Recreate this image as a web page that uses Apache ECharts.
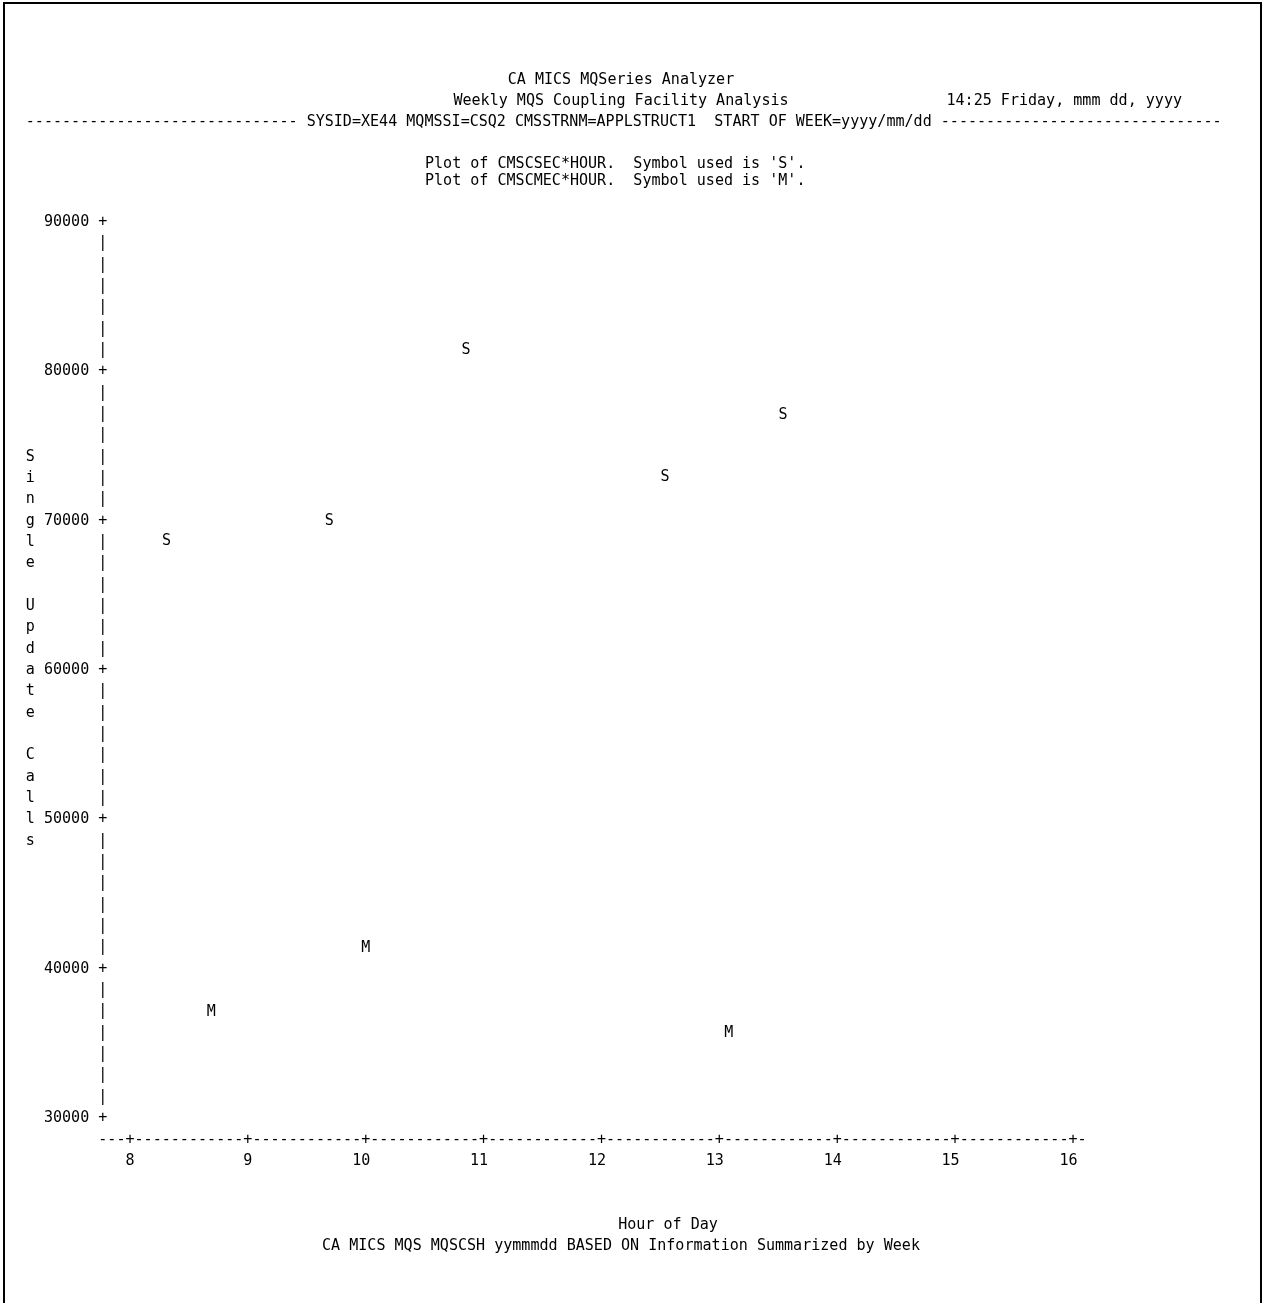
<!DOCTYPE html>
<html>
<head>
<meta charset="utf-8">
<script src="https://cdn.jsdelivr.net/npm/echarts@6/dist/echarts.min.js"></script>
<style>
html,body{margin:0;padding:0;background:#fff;}
#chart{width:1263px;height:1303px;}
</style>
</head>
<body>
<div id="chart"></div>
<script>
// ---- data ----
const hoursS = [8.31, 9.69, 10.85, 12.54, 13.54];
const callsS = [68600, 70000, 81400, 72900, 77100];
const hoursM = [8.69, 10.0, 13.08];
const callsM = [37100, 41400, 35700];
const xTicks = [8, 9, 10, 11, 12, 13, 14, 15, 16];
const yMin = 30000, yMax = 90000, yMajor = 10000, linesPerMajor = 7;

const titleLines = ['CA MICS MQSeries Analyzer', 'Weekly MQS Coupling Facility Analysis'];
const dateText = '14:25 Friday, mmm dd, yyyy';
const byLine = 'SYSID=XE44 MQMSSI=CSQ2 CMSSTRNM=APPLSTRUCT1  START OF WEEK=yyyy/mm/dd';
const plotLines = ["Plot of CMSCSEC*HOUR.  Symbol used is 'S'.", "Plot of CMSCMEC*HOUR.  Symbol used is 'M'."];
const yTitle = 'Single Update Calls';
const xTitle = 'Hour of Day';
const footnote = 'CA MICS MQS MQSCSH yymmmdd BASED ON Information Summarized by Week';

// ---- layout ----
const FONT = "'DejaVu Sans Mono', 'Liberation Mono', monospace";
const CW = 9.067;
const FS = CW / 0.6021;
const LH = 21.333;
const x0 = 130;            // pixel of hour 8
const gridTop = 222;
const gridH = 896;
const xMin = 8 - 3.5 / 13, xMax = 16 + 1.5 / 13;
const gridLeft = x0 - 3.5 * CW;
const gridW = (xMax - xMin) * 13 * CW;

const chart = echarts.init(document.getElementById('chart'), null, {renderer: 'canvas'});

const txt = (text, x, y, align) => ({
  type: 'text', x: x, y: y,
  style: {text: text, font: FS + 'px ' + FONT, fill: '#000', align: align || 'left', verticalAlign: 'middle'}
});

const yTitleText = yTitle.split('').join('\n');

const pointLabel = (ch) => ({
  show: true, position: 'inside', formatter: ch,
  fontFamily: FONT, fontSize: FS, color: '#000',
  textBorderWidth: 0, textShadowBlur: 0, opacity: 1
});

const option = {
  animation: false,
  backgroundColor: '#fff',
  grid: {left: gridLeft, top: gridTop, width: gridW, height: gridH, containLabel: false},
  xAxis: {
    type: 'value', min: xMin, max: xMax,
    axisLine: {show: false}, axisTick: {show: false}, splitLine: {show: false},
    axisLabel: {
      show: true, customValues: xTicks, margin: 11,
      fontFamily: FONT, fontSize: FS, color: '#000', lineHeight: LH,
      align: 'center', verticalAlign: 'top',
      formatter: function (v) {
        const r = Math.round(v);
        let line1;
        if (r === xTicks[0]) line1 = '   ---+------';
        else if (r === xTicks[xTicks.length - 1]) line1 = '------+-     ';
        else line1 = '------+------';
        const s = String(r);
        const line2 = ' '.repeat(7 - s.length) + s + ' '.repeat(6);
        return line1 + '\n' + line2;
      }
    }
  },
  yAxis: {
    type: 'value', min: yMin, max: yMax, interval: yMajor / linesPerMajor,
    axisLine: {show: false}, axisTick: {show: false}, splitLine: {show: false},
    axisLabel: {
      show: true, margin: -CW,
      fontFamily: FONT, fontSize: FS, color: '#000',
      formatter: function (v) {
        const k = Math.round((v - yMin) * linesPerMajor / yMajor);
        if (k % linesPerMajor === 0) return Math.round(yMin + k / linesPerMajor * yMajor) + ' +';
        return '|';
      }
    }
  },
  series: [
    {
      name: 'CMSCSEC', type: 'scatter', symbolSize: 1,
      itemStyle: {color: 'rgba(255,255,255,0)'},
      emphasis: {disabled: true},
      data: hoursS.map((h, i) => [h, callsS[i]]),
      label: pointLabel('S')
    },
    {
      name: 'CMSCMEC', type: 'scatter', symbolSize: 1,
      itemStyle: {color: 'rgba(255,255,255,0)'},
      emphasis: {disabled: true},
      data: hoursM.map((h, i) => [h, callsM[i]]),
      label: pointLabel('M')
    }
  ],
  graphic: [
    {type: 'rect', shape: {x: 4, y: 3, width: 1257, height: 1320}, style: {fill: 'none', stroke: '#000', lineWidth: 2}, silent: true},
    txt(titleLines[0], 621, 80, 'center'),
    txt(titleLines[1], 621, 101, 'center'),
    txt(dateText, 1182, 101, 'right'),
    txt('-'.repeat(30) + ' ' + byLine + ' ' + '-'.repeat(31), 25.8, 122, 'left'),
    txt(plotLines[0], 425, 164, 'left'),
    txt(plotLines[1], 425, 181, 'left'),
    {type: 'text', x: 30.3, y: gridTop + 11 * LH - LH / 2,
     style: {text: yTitleText, font: FS + 'px ' + FONT, fill: '#000', align: 'center', verticalAlign: 'top', lineHeight: LH}},
    txt(xTitle, 668, 1225, 'center'),
    txt(footnote, 621, 1246, 'center')
  ]
};
chart.setOption(option);
</script>
</body>
</html>
